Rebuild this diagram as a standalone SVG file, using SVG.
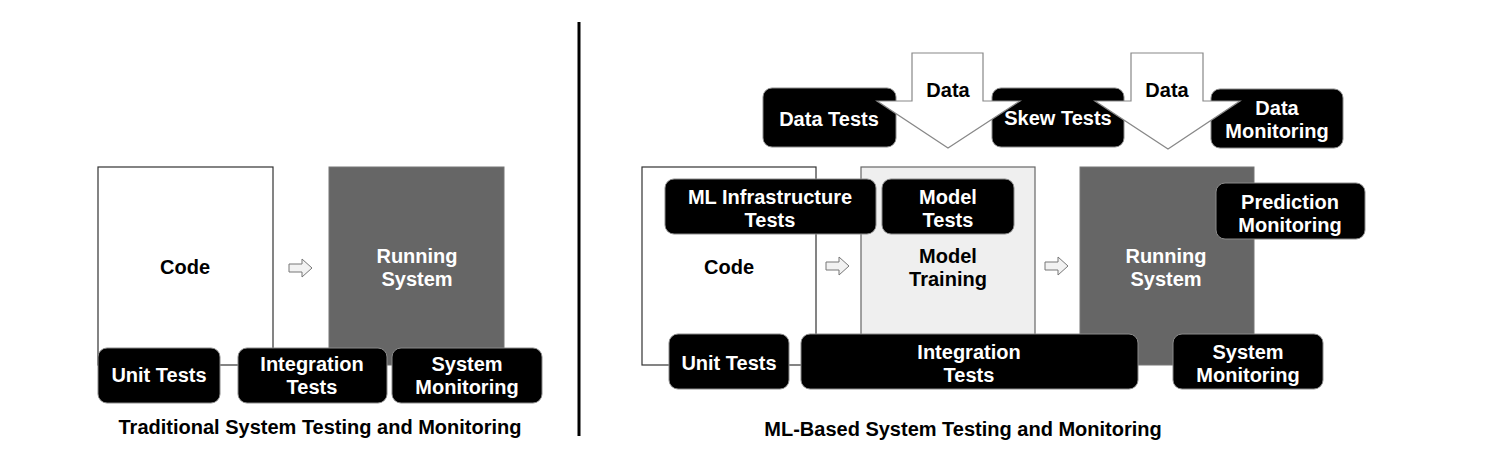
<svg xmlns="http://www.w3.org/2000/svg" width="1492" height="458" viewBox="0 0 1492 458">
<style>
text{font-family:"Liberation Sans",Arial,sans-serif;font-weight:bold;font-size:20px;text-anchor:middle}
.w{fill:#ffffff}
.k{fill:#000000}
.lbl{fill:#000;stroke:#8a8a8a;stroke-width:1}
.code{fill:#ffffff;stroke:#333;stroke-width:1.2}
.train{fill:#efefef;stroke:#666;stroke-width:1.2}
.run{fill:#666666;stroke:#777;stroke-width:1}
.sarrow{fill:#f2f2f2;stroke:#777;stroke-width:1}
.darrow{fill:#ffffff;stroke:#888;stroke-width:1.2}
</style>
<defs>
<path id="sa" d="M0,-4 H13 V-9 L23,0 L13,9 V4 H0 Z" class="sarrow"/>
</defs>
<rect width="1492" height="458" fill="#ffffff"/>

<!-- Left panel -->
<g id="code-left"><rect class="code" x="98" y="167" width="175" height="198"/><text class="k" x="185" y="274">Code</text></g>
<g id="running-left"><rect class="run" x="329" y="167" width="175" height="198"/><text class="w" x="417" y="263">Running</text><text class="w" x="417" y="286">System</text></g>
<g id="connectors-left"><use href="#sa" x="289" y="268"/></g>
<g id="unit-left"><rect class="lbl" x="98" y="348" width="122" height="55" rx="9"/><text class="w" x="159" y="382">Unit Tests</text></g>
<g id="integration-left"><rect class="lbl" x="238" y="348" width="149" height="55" rx="9"/><text class="w" x="312" y="371">Integration</text><text class="w" x="312" y="394">Tests</text></g>
<g id="sysmon-left"><rect class="lbl" x="392" y="348" width="150" height="55" rx="9"/><text class="w" x="467" y="371">System</text><text class="w" x="467" y="394">Monitoring</text></g>
<g id="title-left"><text class="k" x="320" y="434">Traditional System Testing and Monitoring</text></g>

<g id="divider"><rect x="577.5" y="22" width="3" height="414" fill="#000"/></g>

<!-- Right panel -->
<g id="code-right"><rect class="code" x="642" y="167" width="174" height="198"/><text class="k" x="729" y="274">Code</text></g>
<g id="training"><rect class="train" x="861" y="167" width="174" height="198"/><text class="k" x="948" y="263">Model</text><text class="k" x="948" y="286">Training</text></g>
<g id="running-right"><rect class="run" x="1080" y="167" width="174" height="198"/><text class="w" x="1166" y="263">Running</text><text class="w" x="1166" y="286">System</text></g>
<g id="connectors-right"><use href="#sa" x="826" y="266"/><use href="#sa" x="1045" y="266"/></g>

<g id="mlinfra"><rect class="lbl" x="665" y="179" width="211" height="55" rx="9"/><text class="w" x="770" y="204">ML Infrastructure</text><text class="w" x="770" y="227">Tests</text></g>
<g id="modeltests"><rect class="lbl" x="882" y="179" width="132" height="55" rx="9"/><text class="w" x="948" y="204">Model</text><text class="w" x="948" y="227">Tests</text></g>
<g id="predmon"><rect class="lbl" x="1216" y="183" width="149" height="56" rx="9"/><text class="w" x="1290" y="209">Prediction</text><text class="w" x="1290" y="232">Monitoring</text></g>

<g id="unit-right"><rect class="lbl" x="669" y="334" width="120" height="55" rx="9"/><text class="w" x="729" y="370">Unit Tests</text></g>
<g id="integration-right"><rect class="lbl" x="801" y="334" width="337" height="55" rx="9"/><text class="w" x="969" y="359">Integration</text><text class="w" x="969" y="382">Tests</text></g>
<g id="sysmon-right"><rect class="lbl" x="1173" y="334" width="150" height="55" rx="9"/><text class="w" x="1248" y="359">System</text><text class="w" x="1248" y="382">Monitoring</text></g>

<g id="datatests"><rect class="lbl" x="763" y="88" width="133" height="59" rx="9"/><text class="w" x="829" y="126">Data Tests</text></g>
<g id="skewtests"><rect class="lbl" x="992" y="88" width="132" height="59" rx="9"/><text class="w" x="1058" y="125">Skew Tests</text></g>
<g id="datamon"><rect class="lbl" x="1211" y="89" width="132" height="59" rx="9"/><text class="w" x="1277" y="115">Data</text><text class="w" x="1277" y="138">Monitoring</text></g>

<g id="data1"><polygon class="darrow" points="912,53 983,53 983,101 1020,101 948,148 877,101 912,101"/><text class="k" x="948" y="97">Data</text></g>
<g id="data2"><polygon class="darrow" points="1131,53 1203,53 1203,101 1240,101 1168,149 1095,101 1131,101"/><text class="k" x="1167" y="97">Data</text></g>

<g id="title-right"><text class="k" x="963" y="436">ML-Based System Testing and Monitoring</text></g>
</svg>
